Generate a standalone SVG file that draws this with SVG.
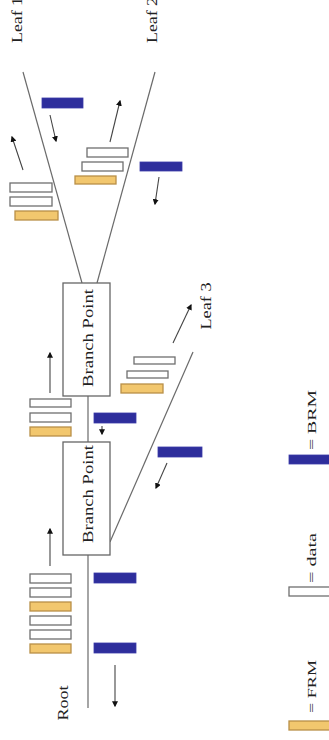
<svg xmlns="http://www.w3.org/2000/svg" width="329" height="740" viewBox="0 0 329 740">
<defs>
<style>
.bg{fill:#ffffff}
.ln{stroke:#6a6a6a;stroke-width:1.2;fill:none}
.box{fill:#ffffff;stroke:#666666;stroke-width:1.3}
.ar{stroke:#444444;stroke-width:1.1;fill:none;marker-end:url(#ah)}
.d{fill:#ffffff;stroke:#6f6f6f;stroke-width:1.3}
.f{fill:#f2c76e;stroke:#b89048;stroke-width:1.3}
.b{fill:#2e2e9c;stroke:#3a3aa8;stroke-width:0.8}
.t{font-family:"Liberation Serif","Times New Roman",serif;fill:#222222}
</style>
<marker id="ah" viewBox="0 0 10 10" refX="8" refY="5" markerWidth="6" markerHeight="6" orient="auto" markerUnits="userSpaceOnUse">
<path d="M0,0 L10,5 L0,10 z" fill="#111111"/>
</marker>
</defs>
<rect class="bg" x="0" y="0" width="329" height="740"/>

<g id="connectors">
<line class="ln" x1="88" y1="555" x2="88" y2="708"/>
<line class="ln" x1="88" y1="396" x2="88" y2="442"/>
<line class="ln" x1="82" y1="283" x2="23" y2="72"/>
<line class="ln" x1="97" y1="283" x2="155" y2="72"/>
<line class="ln" x1="110" y1="542" x2="193" y2="352"/>
</g>

<g id="root">
<text class="t" font-size="15" text-anchor="middle" textLength="35" lengthAdjust="spacingAndGlyphs" transform="translate(68,703) rotate(-90)">Root</text>
</g>
<g id="branch-point-1">
<rect class="box" x="63" y="283" width="47" height="113"/>
<text class="t" font-size="15" text-anchor="middle" textLength="98" lengthAdjust="spacingAndGlyphs" transform="translate(93,338) rotate(-90)">Branch Point</text>
</g>
<g id="branch-point-2">
<rect class="box" x="63" y="442" width="47" height="113"/>
<text class="t" font-size="15" text-anchor="middle" textLength="98" lengthAdjust="spacingAndGlyphs" transform="translate(93,494) rotate(-90)">Branch Point</text>
</g>
<g id="leaf-1">
<text class="t" font-size="14" textLength="46" lengthAdjust="spacingAndGlyphs" transform="translate(22,43) rotate(-90)">Leaf 1</text>
</g>
<g id="leaf-2">
<text class="t" font-size="14" textLength="46" lengthAdjust="spacingAndGlyphs" transform="translate(157,43) rotate(-90)">Leaf 2</text>
</g>
<g id="leaf-3">
<text class="t" font-size="14" text-anchor="middle" textLength="47" lengthAdjust="spacingAndGlyphs" transform="translate(211,306) rotate(-90)">Leaf 3</text>
</g>

<g id="root-cells">
<rect class="d" x="30" y="574" width="41" height="9"/>
<rect class="d" x="30" y="588" width="41" height="9"/>
<rect class="f" x="30" y="602" width="41" height="9"/>
<rect class="d" x="30" y="616" width="41" height="9"/>
<rect class="d" x="30" y="630" width="41" height="9"/>
<rect class="f" x="30" y="644" width="41" height="9"/>
<rect class="b" x="94" y="573" width="42" height="10"/>
<rect class="b" x="94" y="643" width="42" height="10"/>
<line class="ar" x1="50" y1="566" x2="50" y2="529"/>
<line class="ar" x1="115" y1="665" x2="115" y2="706"/>
</g>

<g id="middle-cells">
<rect class="d" x="30" y="399" width="41" height="8"/>
<rect class="d" x="30" y="413" width="41" height="9"/>
<rect class="f" x="30" y="427" width="41" height="9"/>
<rect class="b" x="94" y="413" width="42" height="10"/>
<line class="ar" x1="50" y1="393" x2="50" y2="353"/>
<line class="ar" x1="102" y1="426" x2="102" y2="434"/>
</g>

<g id="leaf3-cells">
<rect class="d" x="134" y="357" width="41" height="7"/>
<rect class="d" x="127" y="371" width="41" height="7"/>
<rect class="f" x="121" y="384" width="42" height="9"/>
<line class="ar" x1="173" y1="343" x2="191" y2="305"/>
<rect class="b" x="158" y="447" width="44" height="10"/>
<line class="ar" x1="167" y1="463" x2="156" y2="488"/>
</g>

<g id="leaf1-cells">
<rect class="b" x="42" y="98" width="41" height="10"/>
<line class="ar" x1="50" y1="115" x2="56" y2="141"/>
<rect class="d" x="10" y="183" width="42" height="9"/>
<rect class="d" x="10" y="197" width="42" height="9"/>
<rect class="f" x="15" y="211" width="43" height="9"/>
<line class="ar" x1="23" y1="170" x2="12" y2="137"/>
</g>

<g id="leaf2-cells">
<rect class="d" x="87" y="148" width="41" height="9"/>
<rect class="d" x="82" y="162" width="41" height="9"/>
<rect class="f" x="75" y="176" width="41" height="8"/>
<line class="ar" x1="110" y1="142" x2="120" y2="101"/>
<rect class="b" x="140" y="162" width="42" height="9"/>
<line class="ar" x1="159" y1="177" x2="155" y2="204"/>
</g>

<g id="legend">
<rect class="b" x="289" y="455" width="42" height="9"/>
<text class="t" font-size="13" textLength="60" lengthAdjust="spacingAndGlyphs" transform="translate(316,450) rotate(-90)">= BRM</text>
<rect class="d" x="289" y="587" width="42" height="9"/>
<text class="t" font-size="13" textLength="50" lengthAdjust="spacingAndGlyphs" transform="translate(316,583) rotate(-90)">= data</text>
<rect class="f" x="289" y="721" width="42" height="9"/>
<text class="t" font-size="13" textLength="53" lengthAdjust="spacingAndGlyphs" transform="translate(316,713) rotate(-90)">= FRM</text>
</g>
</svg>
